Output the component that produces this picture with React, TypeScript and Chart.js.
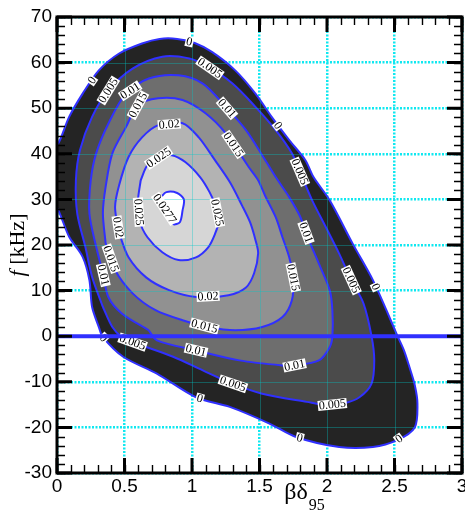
import React, { useEffect, useRef } from 'react';
import { Chart, registerables } from 'chart.js';

Chart.register(...registerables);

// Contour levels of the spectral density and their flood colours
const levels = [0, 0.005, 0.01, 0.015, 0.02, 0.025, 0.0277];
const levelFills = ['#242424', '#4b4b4b', '#6e6e6e', '#919191', '#b3b3b3', '#d6d6d6', '#ffffff'];

// Closed contour lines, points as [βδ95, f (kHz)]
const contour0: [number, number][] = [
  [-0.07, 37.5], [-0.04, 41.0], [0.01, 42.3], [0.09, 48.1], [0.19, 53.2], [0.31, 58.3], [0.46, 62.0],
  [0.63, 64.2], [0.76, 65.2], [0.89, 65.2], [1.02, 64.3], [1.15, 62.3], [1.32, 58.3], [1.47, 53.2],
  [1.59, 48.1], [1.72, 43.0], [1.84, 38.6], [1.9, 34.9], [2.02, 29.8], [2.19, 20.3], [2.34, 12.3],
  [2.44, 5.7], [2.52, 0.2], [2.57, -3.1], [2.61, -6.7], [2.65, -10.7], [2.67, -14.8], [2.65, -20.0],
  [2.52, -22.8], [2.34, -24.3], [2.09, -24.3], [1.77, -22.1], [1.57, -19.1], [1.28, -15.5], [1.03, -13.4],
  [0.74, -8.2], [0.49, -4.5], [0.34, -0.2], [0.31, 2.0], [0.26, 6.4], [0.24, 12.3], [0.19, 17.4],
  [0.09, 21.8], [0.01, 27.6], [-0.06, 30.9],
];
const contour005: [number, number][] = [
  [0.34, 6.4], [0.26, 13.0], [0.21, 19.6], [0.15, 26.9], [0.14, 34.2], [0.17, 40.8], [0.26, 48.1],
  [0.38, 53.9], [0.56, 58.7], [0.78, 61.3], [0.98, 60.9], [1.12, 59.1], [1.3, 55.4], [1.47, 50.3],
  [1.62, 45.2], [1.74, 40.1], [1.81, 35.3], [1.89, 29.8], [1.99, 24.0], [2.09, 18.1], [2.18, 12.3],
  [2.27, 7.2], [2.33, 0.0], [2.35, -5.3], [2.33, -10.4], [2.24, -13.4], [2.13, -14.7], [2.0, -15.1],
  [1.85, -14.4], [1.52, -12.6], [1.3, -10.4], [1.08, -7.5], [0.86, -4.5], [0.56, -1.3], [0.48, -0.2],
  [0.41, 2.0],
];
const contour01: [number, number][] = [
  [0.68, 1.3], [0.48, 5.0], [0.38, 8.6], [0.34, 13.8], [0.29, 19.6], [0.24, 26.9], [0.25, 34.2],
  [0.29, 40.1], [0.38, 46.6], [0.51, 53.2], [0.68, 56.5], [0.9, 57.2], [1.08, 55.4], [1.25, 50.3],
  [1.4, 45.2], [1.52, 39.7], [1.62, 34.9], [1.72, 30.5], [1.8, 26.3], [1.86, 21.5], [1.94, 15.9],
  [2.02, 10.1], [2.04, 5.7], [2.04, 0.0], [2.02, -2.4], [1.94, -5.3], [1.76, -6.4], [1.67, -6.4],
  [1.35, -5.3], [1.03, -3.1], [0.74, -0.9],
];
const contour015: [number, number][] = [
  [0.36, 20.4], [0.34, 27.0], [0.36, 32.7], [0.41, 40.1], [0.51, 45.8], [0.6, 50.7], [0.75, 52.2],
  [0.93, 51.8], [1.1, 48.9], [1.25, 44.5], [1.42, 37.1], [1.49, 34.2], [1.54, 30.9], [1.62, 26.1],
  [1.67, 21.7], [1.72, 17.3], [1.75, 12.9], [1.74, 7.9], [1.67, 4.2], [1.52, 2.0], [1.32, 1.3],
  [1.12, 2.0], [0.93, 3.5], [0.73, 5.7], [0.56, 9.4], [0.43, 14.5],
];
const contour02: [number, number][] = [
  [0.46, 22.6], [0.43, 28.3], [0.46, 33.1], [0.53, 39.3], [0.63, 43.6], [0.75, 46.3], [0.93, 46.7],
  [1.05, 43.6], [1.17, 38.6], [1.28, 33.8], [1.37, 28.7], [1.43, 25.0], [1.47, 21.1], [1.49, 18.2],
  [1.46, 13.8], [1.4, 10.7], [1.27, 9.0], [1.03, 8.6], [0.83, 10.1], [0.66, 12.9], [0.53, 17.3],
];
const contour025: [number, number][] = [
  [0.62, 34.2], [0.67, 37.5], [0.76, 39.3], [0.85, 39.7], [0.95, 38.2], [1.06, 34.9], [1.13, 31.6],
  [1.18, 28.3], [1.2, 25.4], [1.17, 22.4], [1.12, 19.5], [1.03, 17.3], [0.9, 16.7], [0.78, 18.4],
  [0.67, 21.7], [0.61, 25.4], [0.6, 29.8],
];
const contour0277: [number, number][] = [
  [0.77, 30.5], [0.81, 31.6], [0.89, 31.4], [0.94, 30.0], [0.93, 27.6], [0.91, 25.0], [0.86, 24.6],
  [0.82, 27.0], [0.77, 29.2],
];
const contours = [contour0, contour005, contour01, contour015, contour02, contour025, contour0277];

// Where each level's value is written along its line
const labels0: [number, number][] = [[0.26, 56.1], [0.98, 64.5], [1.64, 46.3], [2.36, 10.8], [2.54, -22.8], [1.8, -22.1], [1.06, -13.4], [0.34, -0.6]];
const labels005: [number, number][] = [[0.31, 55.5], [1.12, 58.3], [1.77, 35.7], [2.18, 12.3], [2.04, -15.1], [1.3, -10.7], [0.56, -1.3]];
const labels01: [number, number][] = [[0.54, 53.9], [1.26, 50.0], [1.85, 22.8], [0.34, 13.4], [1.03, -3.1], [1.76, -6.4]];
const labels015: [number, number][] = [[0.6, 50.7], [1.32, 42.3], [0.41, 17.1], [1.09, 2.0], [1.79, 12.9]];
const labels02: [number, number][] = [[0.83, 46.9], [0.46, 23.9], [1.12, 8.3]];
const labels025: [number, number][] = [[0.75, 39.3], [0.6, 27.2], [1.17, 27.0]];
const labels0277: [number, number][] = [[0.78, 27.6]];
const contourLabels = [labels0, labels005, labels01, labels015, labels02, labels025, labels0277];

// Axes
const xTicks = [0, 0.5, 1, 1.5, 2, 2.5, 3];
const yTicks = [-30, -20, -10, 0, 10, 20, 30, 40, 50, 60, 70];
const xMinorStep = 0.1;
const yMinorStep = 2;
const zeroLine = [{ x: 0, y: 0 }, { x: 3, y: 0 }];

const LINE_BLUE = '#3030ff';
const GRID_CYAN = '#10e8f0';

function normAngle(a: number) {
  let r = a;
  while (r > Math.PI / 2 + 1e-6) r -= Math.PI;
  while (r <= -Math.PI / 2 + 1e-6) r += Math.PI;
  return r;
}

const contourDecor = {
  id: 'contourDecor',
  beforeDatasetDraw(chart: any, args: any) {
    if (args.meta.dataset === undefined || chart.data.datasets[args.index].label !== 'zero') return;
    const { ctx, chartArea: ca } = chart;
    const xs = chart.scales.x;
    const ys = chart.scales.y;
    const toPx = (p: [number, number]) => [xs.getPixelForValue(p[0]), ys.getPixelForValue(p[1])];

    // faint grid showing through the flooded region
    ctx.save();
    ctx.beginPath();
    ctx.rect(ca.left, ca.top, ca.right - ca.left, ca.bottom - ca.top);
    ctx.clip();
    ctx.beginPath();
    contour0.forEach((p, i) => {
      const [px, py] = toPx(p);
      if (i === 0) ctx.moveTo(px, py);
      else ctx.lineTo(px, py);
    });
    ctx.closePath();
    ctx.clip();
    ctx.strokeStyle = 'rgba(0,200,200,0.35)';
    ctx.lineWidth = 1;
    xTicks.forEach((v) => {
      const px = Math.round(xs.getPixelForValue(v)) + 0.5;
      ctx.beginPath();
      ctx.moveTo(px, ca.top);
      ctx.lineTo(px, ca.bottom);
      ctx.stroke();
    });
    yTicks.forEach((v) => {
      const py = Math.round(ys.getPixelForValue(v)) + 0.5;
      ctx.beginPath();
      ctx.moveTo(ca.left, py);
      ctx.lineTo(ca.right, py);
      ctx.stroke();
    });
    ctx.restore();

    // level labels aligned with their contour line
    ctx.save();
    ctx.beginPath();
    ctx.rect(ca.left, ca.top, ca.right - ca.left, ca.bottom - ca.top);
    ctx.clip();
    ctx.font = '12px "Liberation Serif", "Times New Roman", serif';
    ctx.textAlign = 'center';
    ctx.textBaseline = 'middle';
    contourLabels.forEach((list, li) => {
      const poly = contours[li].map(toPx);
      const text = String(levels[li]);
      list.forEach((lp) => {
        const [qx, qy] = toPx(lp);
        let best = Infinity;
        let bx = qx;
        let by = qy;
        let ang = 0;
        for (let i = 0; i < poly.length; i++) {
          const [x1, y1] = poly[i];
          const [x2, y2] = poly[(i + 1) % poly.length];
          const dx = x2 - x1;
          const dy = y2 - y1;
          const len = dx * dx + dy * dy;
          let t = len ? ((qx - x1) * dx + (qy - y1) * dy) / len : 0;
          t = Math.max(0, Math.min(1, t));
          const px = x1 + t * dx;
          const py = y1 + t * dy;
          const d = (px - qx) ** 2 + (py - qy) ** 2;
          if (d < best) {
            best = d;
            bx = px;
            by = py;
            ang = Math.atan2(dy, dx);
          }
        }
        const w = ctx.measureText(text).width + 2;
        ctx.save();
        ctx.translate(bx, by);
        ctx.rotate(normAngle(ang));
        ctx.fillStyle = '#ffffff';
        ctx.fillRect(-w / 2, -5, w, 10);
        ctx.fillStyle = '#000000';
        ctx.fillText(text, 0, 0.5);
        ctx.restore();
      });
    });
    ctx.restore();
  },
  afterDraw(chart: any) {
    const { ctx, chartArea: ca } = chart;
    const xs = chart.scales.x;
    const ys = chart.scales.y;
    ctx.save();
    ctx.strokeStyle = '#000';
    // minor ticks, pointing inward
    ctx.lineWidth = 1.4;
    const nx = Math.round((xTicks[xTicks.length - 1] - xTicks[0]) / xMinorStep);
    for (let i = 0; i <= nx; i++) {
      const px = Math.round(xs.getPixelForValue(xTicks[0] + i * xMinorStep)) + 0.5;
      ctx.beginPath();
      ctx.moveTo(px, ca.bottom);
      ctx.lineTo(px, ca.bottom - 8);
      ctx.moveTo(px, ca.top);
      ctx.lineTo(px, ca.top + 8);
      ctx.stroke();
    }
    const ny = Math.round((yTicks[yTicks.length - 1] - yTicks[0]) / yMinorStep);
    for (let i = 0; i <= ny; i++) {
      const py = Math.round(ys.getPixelForValue(yTicks[0] + i * yMinorStep)) + 0.5;
      ctx.beginPath();
      ctx.moveTo(ca.left, py);
      ctx.lineTo(ca.left + 8, py);
      ctx.moveTo(ca.right, py);
      ctx.lineTo(ca.right - 8, py);
      ctx.stroke();
    }
    // major ticks
    ctx.lineWidth = 3;
    xTicks.forEach((v) => {
      const px = xs.getPixelForValue(v);
      ctx.beginPath();
      ctx.moveTo(px, ca.bottom);
      ctx.lineTo(px, ca.bottom - 15);
      ctx.moveTo(px, ca.top);
      ctx.lineTo(px, ca.top + 15);
      ctx.stroke();
    });
    yTicks.forEach((v) => {
      const py = ys.getPixelForValue(v);
      ctx.beginPath();
      ctx.moveTo(ca.left, py);
      ctx.lineTo(ca.left + 15, py);
      ctx.moveTo(ca.right, py);
      ctx.lineTo(ca.right - 15, py);
      ctx.stroke();
    });
    // frame
    ctx.lineWidth = 3;
    ctx.strokeRect(ca.left, ca.top, ca.right - ca.left, ca.bottom - ca.top);

    // axis titles
    ctx.fillStyle = '#000';
    ctx.textBaseline = 'alphabetic';
    const xt = ca.left + 0.61 * (ca.right - ca.left);
    ctx.font = '24px "Liberation Serif", "Times New Roman", serif';
    const main = 'βδ';
    const mw = ctx.measureText(main).width;
    ctx.font = '16px "Liberation Serif", "Times New Roman", serif';
    const sub = '95';
    const sw = ctx.measureText(sub).width;
    const x0 = xt - (mw + sw) / 2;
    ctx.textAlign = 'left';
    ctx.font = '24px "Liberation Serif", "Times New Roman", serif';
    ctx.fillText(main, x0, 499);
    ctx.font = '16px "Liberation Serif", "Times New Roman", serif';
    ctx.fillText(sub, x0 + mw + 1, 510);

    ctx.save();
    ctx.translate(24, (ca.top + ca.bottom) / 2);
    ctx.rotate(-Math.PI / 2);
    ctx.font = 'italic 22px "Liberation Serif", "Times New Roman", serif';
    const fPart = 'f';
    const fw = ctx.measureText(fPart).width;
    ctx.font = '22px "Liberation Serif", "Times New Roman", serif';
    const unitPart = ' [kHz]';
    const uw = ctx.measureText(unitPart).width;
    const sx = -(fw + uw) / 2;
    ctx.font = 'italic 22px "Liberation Serif", "Times New Roman", serif';
    ctx.fillText(fPart, sx, 0);
    ctx.font = '22px "Liberation Serif", "Times New Roman", serif';
    ctx.fillText(unitPart, sx + fw, 0);
    ctx.restore();

    ctx.restore();
  },
};

export default function App() {
  const ref = useRef<HTMLCanvasElement>(null);

  useEffect(() => {
    document.body.style.margin = '0';
    const datasets: any[] = contours.map((pts, i) => ({
      label: `level ${levels[i]}`,
      data: [...pts, pts[0]].map(([x, y]) => ({ x, y })),
      borderColor: LINE_BLUE,
      borderWidth: 2,
      backgroundColor: levelFills[i],
      fill: 'shape',
      pointRadius: 0,
      tension: 0.3,
      order: contours.length - i + 1,
    }));
    datasets.push({
      label: 'zero',
      data: zeroLine,
      borderColor: LINE_BLUE,
      borderWidth: 4,
      fill: false,
      pointRadius: 0,
      tension: 0,
      order: 0,
    });

    const tickFont = { family: '"Liberation Sans", Arial, sans-serif', size: 19 };
    const chart = new Chart(ref.current as HTMLCanvasElement, {
      type: 'line',
      data: { datasets },
      plugins: [contourDecor],
      options: {
        responsive: false,
        animation: false,
        devicePixelRatio: 1,
        events: [],
        layout: { padding: { left: 0, right: 3, top: 17, bottom: 0 } },
        elements: { line: { capBezierPoints: false } },
        plugins: {
          legend: { display: false },
          tooltip: { enabled: false },
        },
        scales: {
          x: {
            type: 'linear',
            min: 0,
            max: 3,
            afterBuildTicks: (s: any) => {
              s.ticks = xTicks.map((value) => ({ value }));
            },
            afterFit: (s: any) => {
              s.height = 39;
              s.paddingLeft = 0;
              s.paddingRight = 0;
            },
            ticks: {
              color: '#000',
              font: tickFont,
              padding: 2,
              maxRotation: 0,
              autoSkip: false,
              callback: (v: any) => String(v),
            },
            grid: { color: GRID_CYAN, lineWidth: 2.5, drawTicks: false },
            border: { display: false, dash: [2, 1.5] },
          },
          y: {
            type: 'linear',
            min: -30,
            max: 70,
            afterBuildTicks: (s: any) => {
              s.ticks = yTicks.map((value) => ({ value }));
            },
            afterFit: (s: any) => {
              s.width = 57;
              s.paddingTop = 0;
              s.paddingBottom = 0;
            },
            ticks: {
              color: '#000',
              font: tickFont,
              padding: 5,
              autoSkip: false,
              callback: (v: any) => String(v),
            },
            grid: { color: GRID_CYAN, lineWidth: 2.5, drawTicks: false },
            border: { display: false, dash: [2, 1.5] },
          },
        },
      } as any,
    });
    return () => chart.destroy();
  }, []);

  return (
    <div style={{ position: 'fixed', left: 0, top: 0, width: 465, height: 512 }}>
      <canvas ref={ref} width={465} height={512} style={{ display: 'block' }} />
    </div>
  );
}
